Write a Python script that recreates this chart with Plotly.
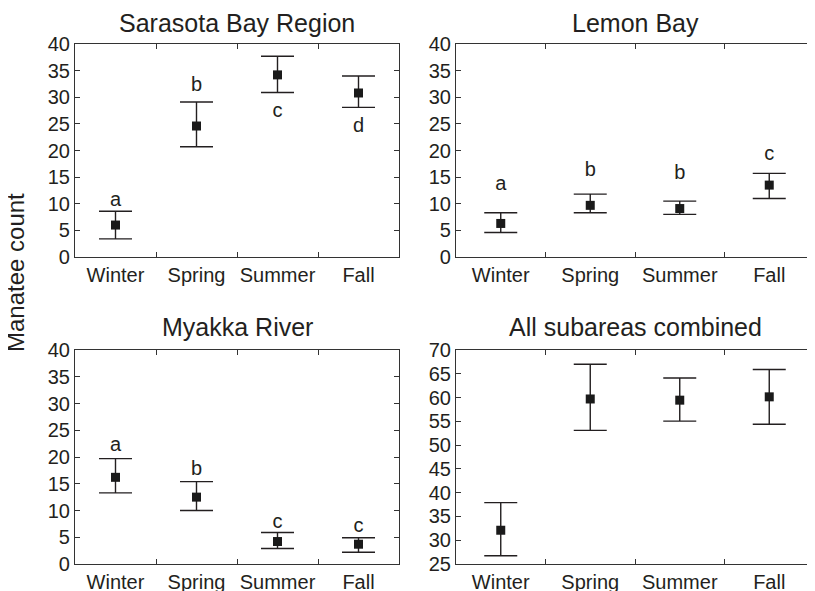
import plotly.graph_objects as go

seasons = ["Winter", "Spring", "Summer", "Fall"]

panel_titles = ["Sarasota Bay Region", "Lemon Bay", "Myakka River", "All subareas combined"]

sarasota_mean = [6.0, 24.6, 34.2, 30.8]
sarasota_upper = [8.6, 29.1, 37.7, 34.0]
sarasota_lower = [3.4, 20.7, 30.9, 28.1]
sarasota_letters = ["a", "b", "c", "d"]
sarasota_letter_y = [10.5, 32.2, 27.3, 24.5]

lemon_mean = [6.3, 9.7, 9.1, 13.5]
lemon_upper = [8.3, 11.8, 10.5, 15.7]
lemon_lower = [4.6, 8.3, 8.0, 11.0]
lemon_letters = ["a", "b", "b", "c"]
lemon_letter_y = [13.5, 16.2, 15.5, 19.2]

myakka_mean = [16.2, 12.5, 4.2, 3.7]
myakka_upper = [19.7, 15.4, 5.9, 4.9]
myakka_lower = [13.3, 10.0, 2.9, 2.2]
myakka_letters = ["a", "b", "c", "c"]
myakka_letter_y = [22.1, 17.6, 7.6, 7.0]

all_mean = [32.1, 59.7, 59.45, 60.15]
all_upper = [37.9, 67.0, 64.1, 65.9]
all_lower = [26.75, 53.1, 55.05, 54.4]

y_ranges = [[0, 40], [0, 40], [0, 40], [25, 70]]

# page body has an 8px margin: figure is drawn 8px right/down of the window origin
OFF = 8
W, H = 815 - OFF, 591 - OFF
boxes = [  # left, right, top, bottom in window px
    (75, 399, 44, 257),
    (456, 814, 44, 257),
    (75, 399, 350, 564),
    (456, 814, 350, 564),
]
title_gap = [21, 21, 23, 23]


def px_x(v):
    return (v - OFF) / W


def px_y(v):
    return 1 - (v - OFF) / H


FONT = "Liberation Sans, Arial, sans-serif"
TXT = "#231f20"

fig = go.Figure()

panels = [
    (sarasota_mean, sarasota_upper, sarasota_lower, sarasota_letters, sarasota_letter_y),
    (lemon_mean, lemon_upper, lemon_lower, lemon_letters, lemon_letter_y),
    (myakka_mean, myakka_upper, myakka_lower, myakka_letters, myakka_letter_y),
    (all_mean, all_upper, all_lower, None, None),
]

annotations = []
for i, (mean, up, lo, letters, ly) in enumerate(panels):
    n = "" if i == 0 else str(i + 1)
    xa, ya = "x" + n, "y" + n
    fig.add_trace(go.Scatter(
        x=seasons, y=mean, mode="markers", xaxis=xa, yaxis=ya,
        marker=dict(symbol="square", size=9, color="#1a1a1a"),
        error_y=dict(type="data", symmetric=False,
                     array=[u - m for u, m in zip(up, mean)],
                     arrayminus=[m - l for m, l in zip(mean, lo)],
                     width=16.5, thickness=1.4, color="#231f20"),
        showlegend=False,
    ))
    if letters:
        fig.add_trace(go.Scatter(
            x=seasons, y=ly, mode="text", text=letters, xaxis=xa, yaxis=ya,
            textfont=dict(family=FONT, size=20, color=TXT),
            textposition="middle center", showlegend=False,
        ))
    l, r, t, b = boxes[i]
    dom_x = [px_x(l), px_x(r)]
    dom_y = [px_y(b), px_y(t)]
    axis_common = dict(showline=True, linecolor="#333333", linewidth=1.2, mirror="ticks",
                       ticks="inside", ticklen=5, tickcolor="#333333", tickwidth=1,
                       showgrid=False, zeroline=False, automargin=False,
                       tickfont=dict(family=FONT, size=20, color=TXT))
    fig.layout["xaxis" + n] = dict(domain=dom_x, anchor=ya, type="category",
                                   categoryorder="array", categoryarray=seasons,
                                   range=[-0.5, 3.5], tickson="boundaries",
                                   tickangle=0, **axis_common)
    fig.layout["yaxis" + n] = dict(domain=dom_y, anchor=xa, range=y_ranges[i],
                                   dtick=5, tick0=0, **axis_common)
    annotations.append(dict(text=panel_titles[i], xref="paper", yref="paper",
                            x=px_x((l + r) / 2), y=px_y(t - title_gap[i]),
                            xanchor="center", yanchor="middle", showarrow=False,
                            font=dict(family=FONT, size=25, color=TXT)))

annotations.append(dict(text="Manatee count", xref="paper", yref="paper",
                        x=px_x(15), y=px_y(273), textangle=-90,
                        xanchor="center", yanchor="middle", showarrow=False,
                        font=dict(family=FONT, size=24, color=TXT)))

fig.update_layout(width=W, height=H, margin=dict(l=0, r=0, t=0, b=0),
                  plot_bgcolor="white", paper_bgcolor="white",
                  annotations=annotations)

fig.write_html("out.html")
